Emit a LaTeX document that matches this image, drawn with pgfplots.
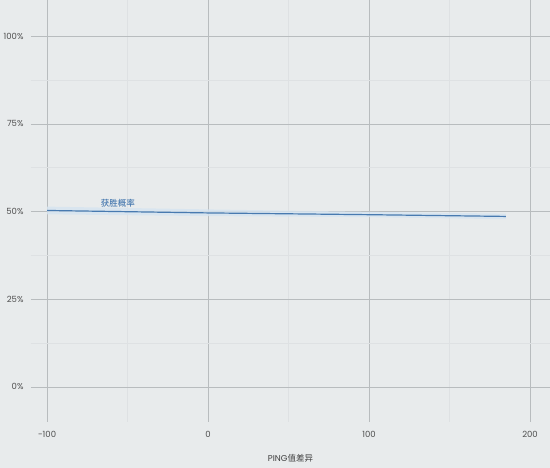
\documentclass[border=0pt]{standalone}
\usepackage{pgfplots}
\pgfplotsset{compat=1.18}
\usepackage{fontspec}
\setmainfont{Poppins}
\newfontfamily\cjk{Noto Sans CJK SC}
\newfontfamily\cjkmed{Noto Sans CJK SC Medium}
\definecolor{bg}{RGB}{232,235,236}
\definecolor{gridmaj}{RGB}{184,188,190}
\definecolor{gridmin}{RGB}{222,225,227}
\definecolor{line}{RGB}{72,122,176}
\definecolor{band}{RGB}{214,228,240}
\definecolor{ticktext}{RGB}{80,80,80}
\begin{document}
\begin{tikzpicture}[x=1pt,y=1pt]
\fill[bg] (0,0) rectangle (550,468);
\useasboundingbox (0,0) rectangle (550,468);
\begin{axis}[
    at={(31pt,46pt)}, anchor=south west,
    scale only axis, width=519pt, height=422pt,
    xmin=-110, xmax=212.4,
    ymin=-10, ymax=110.3,
    axis line style={draw=none},
    xtick={-100,0,100,200},
    xticklabels={-100,0,100,200},
    ytick={0,25,50,75,100},
    minor xtick={-50,50,150},
    minor ytick={12.5,37.5,62.5,87.5},
    major tick length=0pt, minor tick length=0pt,
    grid=both,
    major grid style={gridmaj, line width=0.6pt},
    minor grid style={gridmin, line width=0.6pt},
    yticklabel={\pgfmathprintnumber{\tick}\%},
    /pgf/number format/assume math mode=true,
    ticklabel style={font=\fontsize{8.5}{10}\selectfont, text=ticktext},
    yticklabel style={xshift=-4pt},
    xticklabel style={yshift=-6pt},
    xlabel={PING\cjk 值差异},
    xlabel style={font=\fontsize{8.5}{10}\selectfont, text=black!75, yshift=-10pt},
    clip=false,
]
\addplot[draw=none, fill=band, opacity=0.8] coordinates {
    (-100,51.4) (0,50.6) (100,49.9) (185,49.4)
    (185,47.8) (100,48.4) (0,48.7) (-100,49.2)
} -- cycle;
\addplot[line, line width=1.2pt] coordinates {
    (-100,50.3) (0,49.6) (100,49.1) (185,48.6)
};
\node[font=\cjkmed\fontsize{8.5}{10}\selectfont, text=line] at (axis cs:-56,52.3) {获胜概率};
\end{axis}
\end{tikzpicture}
\end{document}
